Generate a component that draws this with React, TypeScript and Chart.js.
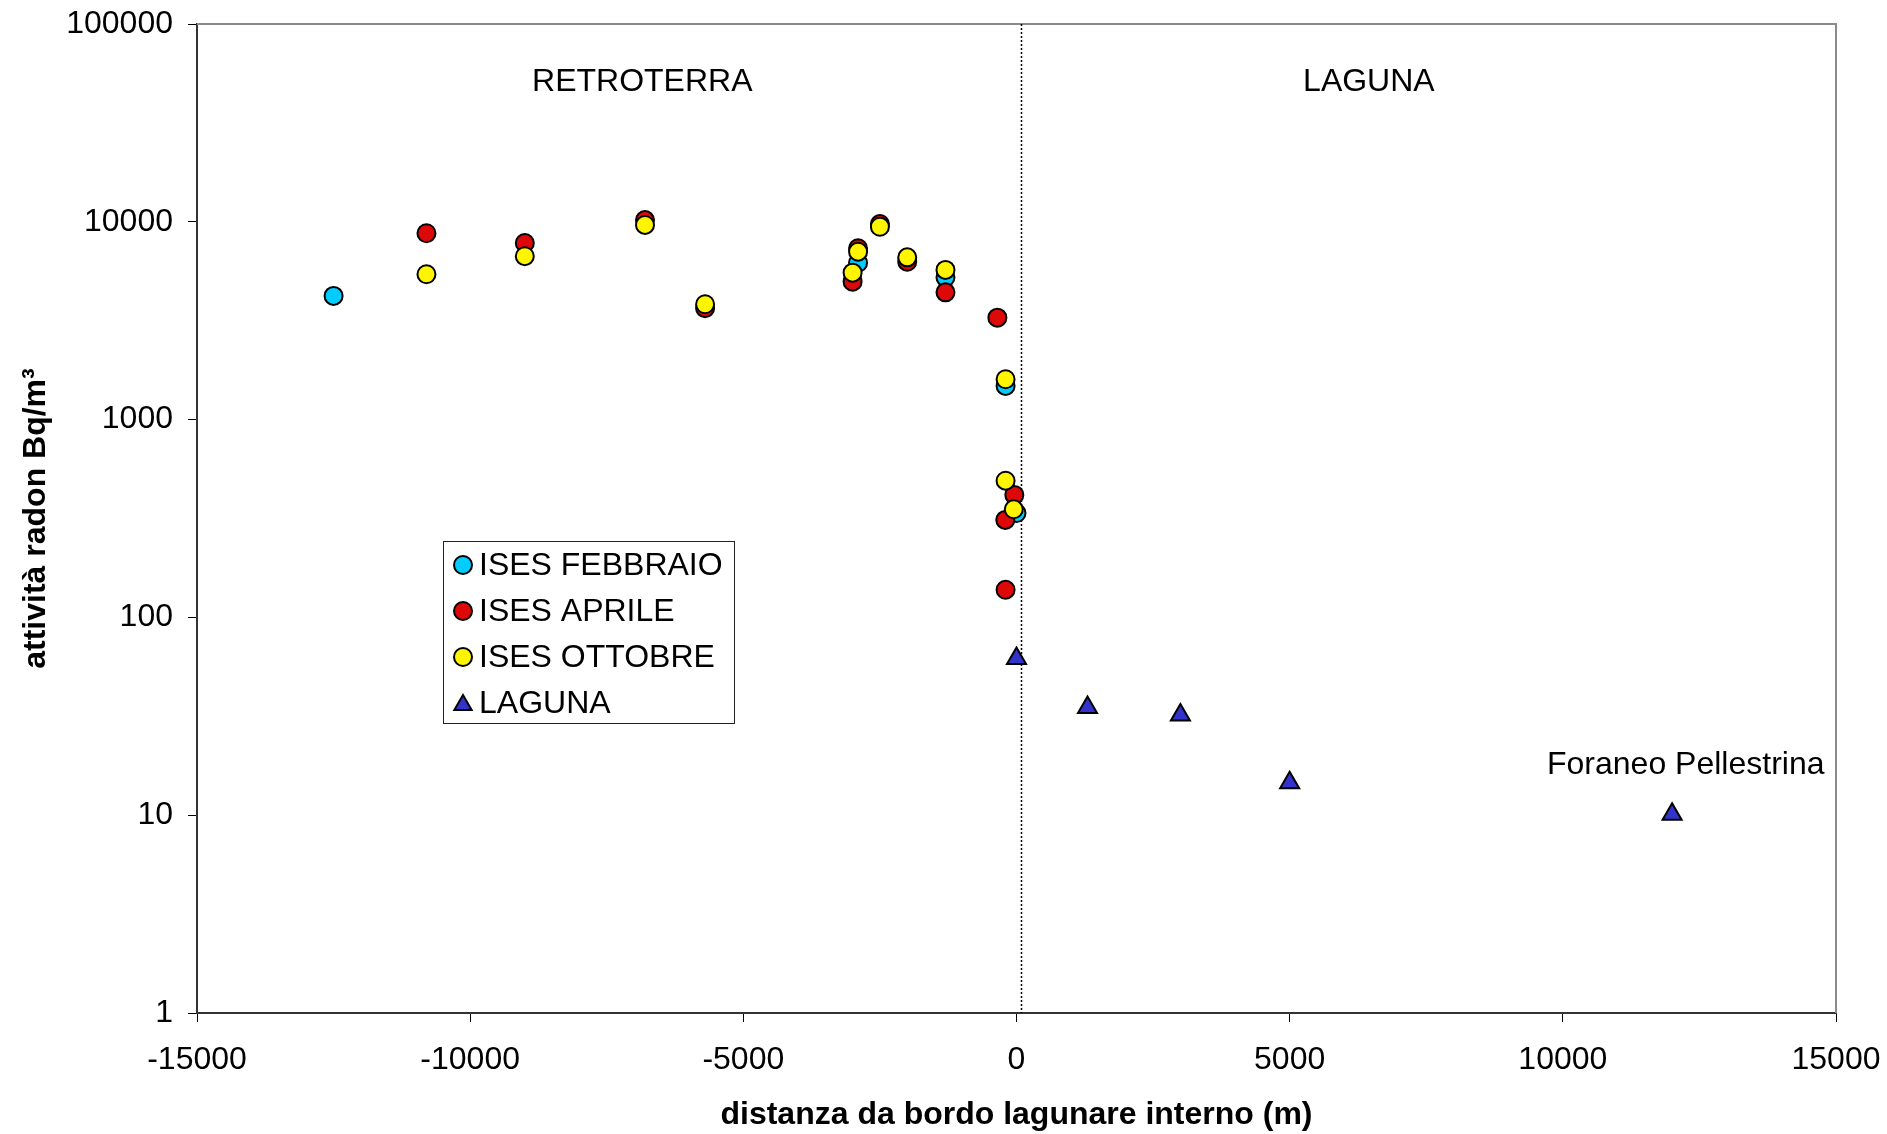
import React, { useEffect, useRef } from "react";
import { Chart, registerables } from "chart.js";

Chart.register(...registerables);

// ---- data ----
const seriesNames = ["ISES FEBBRAIO", "ISES APRILE", "ISES OTTOBRE", "LAGUNA"];

const febX = [-12500, -2900, -1300, -200, 0];
const febY = [4220, 6210, 5240, 1480, 337];

const aprX = [-10800, -9000, -6800, -5700, -3000, -2900, -2500, -2000, -1300, -350, -40, -205, -200];
const aprY = [8750, 7810, 10200, 3660, 4980, 7350, 9750, 6290, 4400, 3275, 416, 311, 138];

const ottX = [-10800, -9000, -6800, -5700, -3000, -2900, -2500, -2000, -1300, -200, -200, -50];
const ottY = [5430, 6700, 9640, 3830, 5530, 7060, 9440, 6610, 5710, 1600, 491, 352];

const lagX = [0, 1300, 3000, 5000, 12000];
const lagY = [62, 35, 32.1, 14.6, 10.1];

const xTicks = [-15000, -10000, -5000, 0, 5000, 10000, 15000];
const yTicks = [1, 10, 100, 1000, 10000, 100000];

const xTitle = "distanza da bordo lagunare interno (m)";
const yTitle = "attività radon Bq/m³";
const regionLabels = ["RETROTERRA", "LAGUNA"];
const noteLabel = "Foraneo Pellestrina";

// annotation anchors (in data units)
const dividerX = 90;
const regionLabelX = [-6850, 6450];
const regionLabelY = 51000;
const noteX = 12250;
const noteY = 17.9;

const FONT = '"Liberation Sans", Arial, Helvetica, sans-serif';
const colors = ["#00CCFF", "#DD0808", "#FFF500", "#3333CC"];
const shapes = ["circle", "circle", "circle", "triangle"];

function drawMarker(ctx: CanvasRenderingContext2D, shape: string, x: number, y: number, r: number, fill: string) {
  ctx.beginPath();
  if (shape === "triangle") {
    let rad = 0;
    ctx.moveTo(x + Math.sin(rad) * r, y - Math.cos(rad) * r);
    rad += (2 * Math.PI) / 3;
    ctx.lineTo(x + Math.sin(rad) * r, y - Math.cos(rad) * r);
    rad += (2 * Math.PI) / 3;
    ctx.lineTo(x + Math.sin(rad) * r, y - Math.cos(rad) * r);
    ctx.closePath();
  } else {
    ctx.arc(x, y, r, 0, Math.PI * 2);
  }
  ctx.fillStyle = fill;
  ctx.fill();
  ctx.lineWidth = 2;
  ctx.strokeStyle = "#000";
  ctx.stroke();
}

const noPad = (s: any) => {
  s.paddingTop = 0;
  s.paddingBottom = 0;
  s.paddingLeft = 0;
  s.paddingRight = 0;
};

export default function App() {
  const ref = useRef<HTMLCanvasElement>(null);

  useEffect(() => {
    const canvas = ref.current;
    if (!canvas) return;
    const xs = [febX, aprX, ottX, lagX];
    const ys = [febY, aprY, ottY, lagY];

    const datasets = seriesNames.map((name, i) => ({
      label: name,
      data: xs[i].map((x, j) => ({ x, y: ys[i][j] })),
      backgroundColor: colors[i],
      borderColor: "#000",
      borderWidth: 2,
      pointRadius: shapes[i] === "triangle" ? 11 : 9,
      pointHoverRadius: shapes[i] === "triangle" ? 11 : 9,
      pointStyle: shapes[i],
      showLine: false,
      order: seriesNames.length - 1 - i,
    }));

    const overlay = {
      id: "overlay",
      beforeDatasetsDraw(chart: any) {
        const { ctx, chartArea: a, scales } = chart;
        ctx.save();
        ctx.strokeStyle = "#8a8a8a";
        ctx.lineWidth = 2;
        ctx.beginPath();
        ctx.moveTo(a.left, a.top);
        ctx.lineTo(a.right, a.top);
        ctx.lineTo(a.right, a.bottom);
        ctx.stroke();
        const px = Math.round(scales.x.getPixelForValue(dividerX)) + 0.5;
        ctx.strokeStyle = "#000";
        ctx.lineWidth = 1.5;
        ctx.setLineDash([2, 2]);
        ctx.beginPath();
        ctx.moveTo(px, a.top);
        ctx.lineTo(px, a.bottom);
        ctx.stroke();
        ctx.restore();
      },
      afterDatasetsDraw(chart: any) {
        const { ctx, chartArea: a, scales } = chart;
        ctx.save();
        ctx.fillStyle = "#000";
        ctx.font = `32px ${FONT}`;
        ctx.textAlign = "center";
        ctx.textBaseline = "middle";
        regionLabels.forEach((t, i) => {
          ctx.fillText(t, scales.x.getPixelForValue(regionLabelX[i]), scales.y.getPixelForValue(regionLabelY));
        });
        ctx.fillText(noteLabel, scales.x.getPixelForValue(noteX), scales.y.getPixelForValue(noteY));

        // legend
        const bx = a.left + 246;
        const by = a.top + 517;
        const bw = 291;
        const bh = 182;
        ctx.fillStyle = "#fff";
        ctx.fillRect(bx, by, bw, bh);
        ctx.strokeStyle = "#222";
        ctx.lineWidth = 1;
        ctx.strokeRect(Math.round(bx) + 0.5, Math.round(by) + 0.5, bw, bh);
        chart.data.datasets.forEach((ds: any, i: number) => {
          const cy = by + 24 + i * 46;
          drawMarker(ctx, ds.pointStyle, bx + 20, cy + (ds.pointStyle === "triangle" ? 2 : 0), ds.pointStyle === "triangle" ? 10 : ds.pointRadius, ds.backgroundColor);
          ctx.fillStyle = "#000";
          ctx.font = `32px ${FONT}`;
          ctx.textAlign = "left";
          ctx.textBaseline = "middle";
          ctx.fillText(ds.label, bx + 36, cy + 1);
        });
        ctx.restore();
      },
    };

    const chart = new Chart(canvas, {
      type: "scatter",
      data: { datasets: datasets as any },
      plugins: [overlay as any],
      options: {
        animation: false,
        responsive: false,
        maintainAspectRatio: false,
        events: [],
        layout: { padding: { left: 0, right: 51, top: 24, bottom: 0 } },
        plugins: { legend: { display: false }, tooltip: { enabled: false } },
        scales: {
          x: {
            type: "linear",
            min: -15000,
            max: 15000,
            afterBuildTicks: (s: any) => {
              s.ticks = xTicks.map((v) => ({ value: v }));
            },
            afterFit: (s: any) => {
              s.height = 121;
              noPad(s);
            },
            ticks: {
              autoSkip: false,
              maxRotation: 0,
              padding: 19,
              color: "#000",
              font: { family: FONT, size: 32 },
              callback: (v: any) => String(v),
            },
            grid: { drawOnChartArea: false, drawTicks: true, tickLength: 9, color: "#000", lineWidth: 1 },
            border: { display: true, color: "#333", width: 2 },
            title: {
              display: true,
              text: xTitle,
              color: "#000",
              font: { family: FONT, size: 32, weight: "bold" },
              padding: { top: 0, bottom: 0 },
            },
          },
          y: {
            type: "logarithmic",
            min: 1,
            max: 100000,
            afterBuildTicks: (s: any) => {
              s.ticks = yTicks.map((v) => ({ value: v, major: true }));
            },
            afterFit: (s: any) => {
              s.width = 197;
              noPad(s);
            },
            ticks: {
              autoSkip: false,
              padding: 15,
              color: "#000",
              font: { family: FONT, size: 32 },
              callback: (v: any) => String(v),
            },
            grid: { drawOnChartArea: false, drawTicks: true, tickLength: 9, color: "#000", lineWidth: 1 },
            border: { display: true, color: "#333", width: 2 },
            title: {
              display: true,
              text: yTitle,
              color: "#000",
              font: { family: FONT, size: 32, weight: "bold" },
              padding: { top: 17, bottom: 0 },
            },
          },
        },
      } as any,
    });
    return () => chart.destroy();
  }, []);

  return (
    <div style={{ position: "fixed", left: 0, top: 0, width: 1887, height: 1134, background: "#fff" }}>
      <canvas ref={ref} width={1887} height={1134} style={{ display: "block" }} />
    </div>
  );
}
